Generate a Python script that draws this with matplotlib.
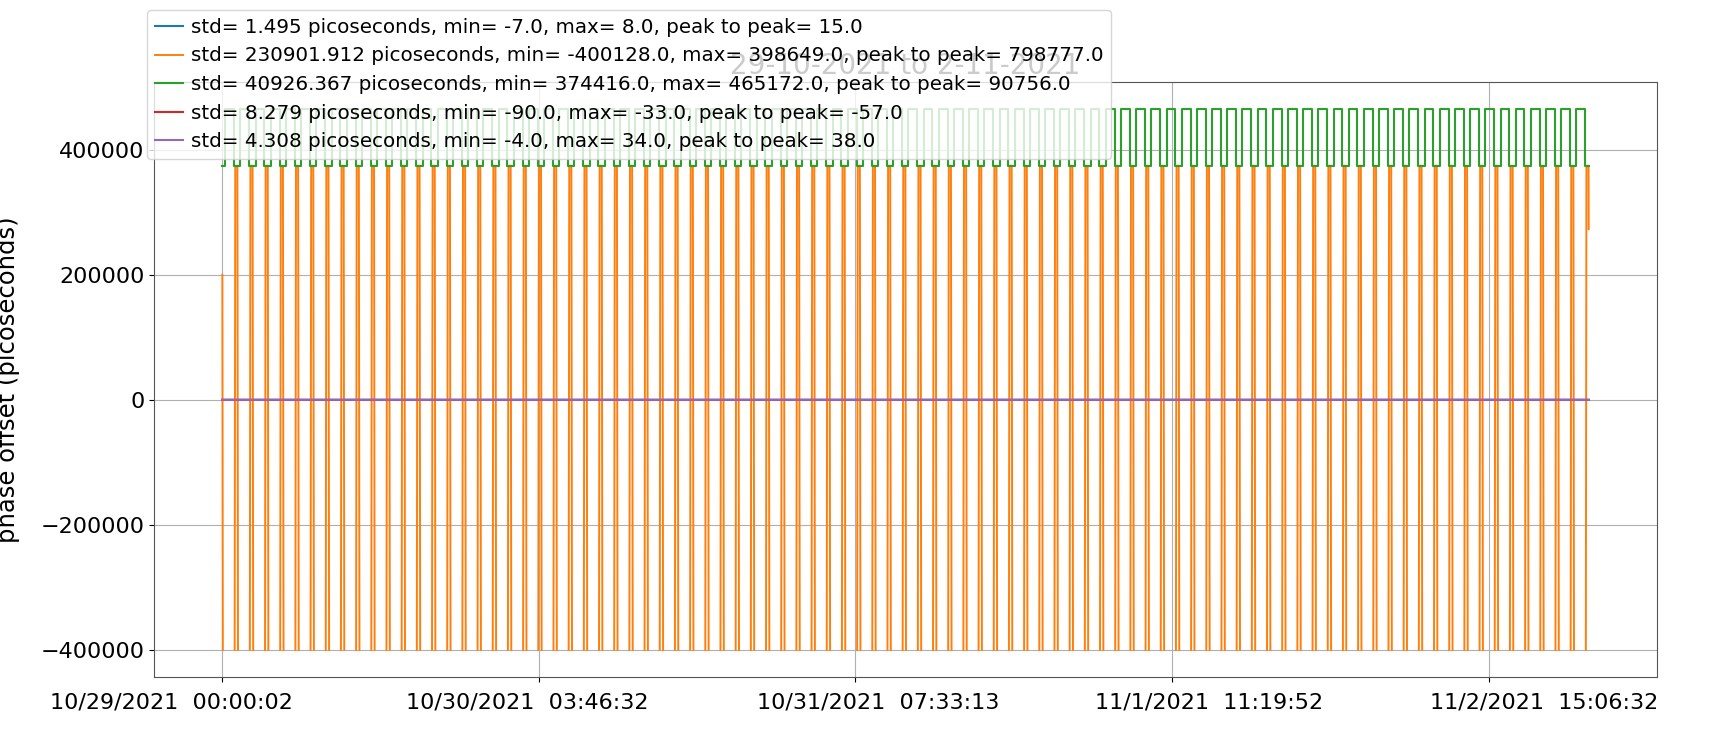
import numpy as np
import matplotlib
matplotlib.use("Agg")
import matplotlib.pyplot as plt
from matplotlib.transforms import ScaledTranslation

# ---------------- data ----------------
title = "29-10-2021 to 2-11-2021"
ylabel = "phase offset (picoseconds)"

tick_seconds = [0, 99990, 199991, 299990, 399990]
tick_labels = ["10/29/2021  00:00:02", "10/30/2021  03:46:32",
               "10/31/2021  07:33:13", "11/1/2021  11:19:52",
               "11/2/2021  15:06:32"]

legend_labels = [
    "std= 1.495 picoseconds, min= -7.0, max= 8.0, peak to peak= 15.0",
    "std= 230901.912 picoseconds, min= -400128.0, max= 398649.0, peak to peak= 798777.0",
    "std= 40926.367 picoseconds, min= 374416.0, max= 465172.0, peak to peak= 90756.0",
    "std= 8.279 picoseconds, min= -90.0, max= -33.0, peak to peak= -57.0",
    "std= 4.308 picoseconds, min= -4.0, max= 34.0, peak to peak= 38.0",
]

span_seconds = 431600          # length of the record
n_cycles = 90                  # number of repeating cycles seen

# near-zero series (flat at this scale)
flat_times = [0, 61700, 123300, 185000, 246600, 308300, 370000, 431600]
blue_vals = [0, 3, -7, 8, -2, 1, 4, -3]
red_vals = [-60, -33, -90, -55, -70, -45, -80, -62]
purple_vals = [10, 34, -4, 20, 15, 5, 25, 12]

# green square wave: levels and phase where it goes high within one cycle
green_low, green_high = 374416, 465172
green_high_phase = 0.42

# orange spikes: shape of one cycle (phase, value)
orange_phase = [0.04, 0.08, 0.22, 0.26]
orange_vals = [-400128, 374416, 374416, -400128]
orange_first_value = 200000
orange_last_value = 273000
start_phase = 0.23

# ---------------- build series ----------------
P = span_seconds / n_cycles

# green
gx, gy = [0.0], [green_low]
for k in range(n_cycles + 1):
    c = (k - start_phase) * P
    for t, v in ((c + green_high_phase * P, green_high), (c + P, green_low)):
        if 0 < t < span_seconds:
            gx.append(t); gy.append(v)
gx.append(span_seconds); gy.append(gy[-1])

# orange
ox, oy = [0.0], [orange_first_value]
for k in range(n_cycles + 1):
    c = (k - start_phase) * P
    added = False
    for ph, v in zip(orange_phase, orange_vals):
        t = c + ph * P
        if 0 < t < span_seconds:
            ox.append(t); oy.append(v); added = True
    if added and c + orange_phase[-1] * P < span_seconds:
        ox.append(c + 0.5 * P); oy.append(np.nan)
ox.append(span_seconds); oy.append(orange_last_value)

# ---------------- plot ----------------
fig = plt.figure(figsize=(17.25, 7.49), dpi=100)
ax = fig.add_axes([0.0893, 0.0961, 0.8713, 0.7944])

l1, = ax.plot(flat_times, blue_vals, color="C0", lw=1.5)
l2, = ax.plot(ox, oy, color="C1", lw=1.4)
l3, = ax.plot(gx, gy, color="C2", lw=1.5, drawstyle="steps-post")
l4, = ax.plot(flat_times, red_vals, color="C3", lw=1.5)
l5, = ax.plot(flat_times, purple_vals, color="C4", lw=1.5)

ax.set_xticks(tick_seconds)
ax.set_xticklabels(tick_labels, fontsize=16)
ax.tick_params(axis="x", pad=8)
ax.tick_params(axis="y", labelsize=16)
# horizontal shift of each x tick label (pixels), as placed in the reference
label_shift_px = [-51, -12, 23, 37, 55]
for lab, dx in zip(ax.get_xticklabels(), label_shift_px):
    lab.set_transform(lab.get_transform() + ScaledTranslation(dx / 100, 0, fig.dpi_scale_trans))

ax.grid(True, color="#b0b0b0", lw=0.8)
for s in ax.spines.values():
    s.set_color("#555555")

ax.set_title(title, fontsize=20)
ax.set_ylabel(ylabel, fontsize=17.5)
ax.yaxis.set_label_coords(-0.089, 0.5)

ax.legend([l1, l2, l3, l4, l5], legend_labels, loc="upper left",
          bbox_to_anchor=(-0.0047, 1.121), borderaxespad=0, fontsize=14.3,
          labelspacing=0.48, handlelength=1.4, handletextpad=0.4)

fig.savefig("out.png", dpi=100)
